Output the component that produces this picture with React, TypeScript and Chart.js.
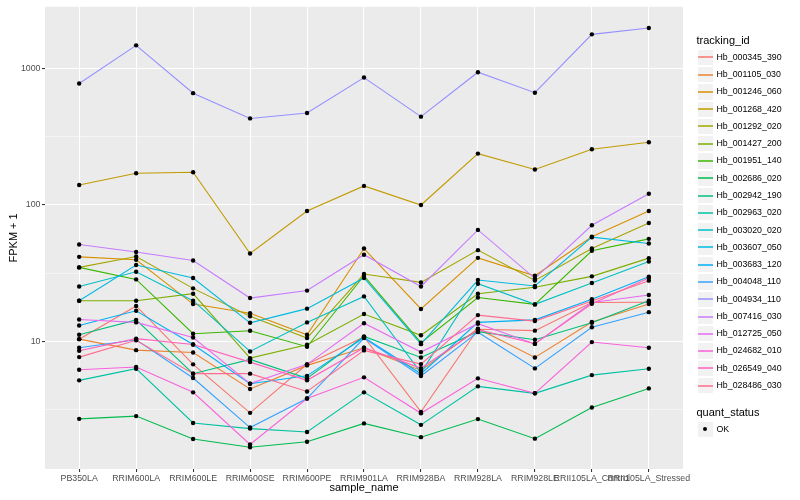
import React, { useEffect, useRef } from "react";
import { Chart, registerables } from "chart.js";

Chart.register(...registerables);

const FONT = "'Liberation Sans', Arial, Helvetica, sans-serif";

const categories = [
  "PB350LA",
  "RRIM600LA",
  "RRIM600LE",
  "RRIM600SE",
  "RRIM600PE",
  "RRIM901LA",
  "RRIM928BA",
  "RRIM928LA",
  "RRIM928LE",
  "RRII105LA_Control",
  "RRII105LA_Stressed",
];

const trackingIds = [
  "Hb_000345_390",
  "Hb_001105_030",
  "Hb_001246_060",
  "Hb_001268_420",
  "Hb_001292_020",
  "Hb_001427_200",
  "Hb_001951_140",
  "Hb_002686_020",
  "Hb_002942_190",
  "Hb_002963_020",
  "Hb_003020_020",
  "Hb_003607_050",
  "Hb_003683_120",
  "Hb_004048_110",
  "Hb_004934_110",
  "Hb_007416_030",
  "Hb_012725_050",
  "Hb_024682_010",
  "Hb_026549_040",
  "Hb_028486_030",
];

const seriesColors = [
  "#F8766D", "#EA8331", "#D89000", "#C09B00", "#A3A500",
  "#7CAE00", "#39B600", "#00BB4E", "#00BF7D", "#00C1A3",
  "#00BFC4", "#00BAE0", "#00B0F6", "#35A2FF", "#9590FF",
  "#C77CFF", "#E76BF3", "#FA62DB", "#FF62BC", "#FF6C91",
];

// FPKM + 1 per sample, one array per tracking id
const hb000345_390 = [10.4, 18.2, 6.8, 3.0, 6.8, 10.8, 3.05, 12.3, 12.0, 19.3, 19.4];
const hb001105_030 = [10.4, 8.64, 8.3, 4.49, 6.68, 9.0, 6.14, 12.4, 7.64, 13.9, 18.8];
const hb001246_060 = [41.7, 39.7, 18.8, 16.1, 11.2, 48.0, 17.3, 41.0, 30.3, 58.5, 90.4];
const hb001268_420 = [140, 171, 174, 44.1, 90.4, 138, 100, 238, 182, 256, 288];
const hb001292_020 = [34.9, 41.9, 24.5, 15.3, 10.6, 31.2, 27.1, 46.7, 28.0, 48.0, 73.9];
const hb001427_200 = [19.9, 19.9, 22.4, 7.55, 9.46, 15.9, 11.1, 22.4, 25.0, 30.0, 40.8];
const hb001951_140 = [34.9, 28.5, 11.4, 11.97, 9.15, 30.3, 9.8, 21.0, 18.7, 46.2, 56.5];
const hb002686_020 = [2.71, 2.84, 1.93, 1.68, 1.84, 2.51, 1.99, 2.7, 1.94, 3.28, 4.53];
const hb002942_190 = [11.2, 14.4, 5.81, 7.39, 5.37, 10.9, 7.64, 11.8, 10.3, 13.7, 19.9];
const hb002963_020 = [5.19, 6.32, 2.53, 2.3, 2.17, 4.24, 2.45, 4.69, 4.17, 5.67, 6.32];
const hb003020_020 = [25.3, 32.4, 19.9, 8.45, 13.8, 21.4, 5.9, 26.5, 18.7, 26.8, 38.5];
const hb003607_050 = [19.9, 36.3, 29.2, 13.7, 17.4, 29.2, 9.56, 28.2, 25.5, 58.1, 52.2];
const hb003683_120 = [13.1, 16.8, 9.5, 4.9, 5.6, 10.7, 5.8, 13.8, 14.4, 20.4, 29.8];
const hb004048_110 = [9.0, 10.3, 5.4, 2.34, 3.82, 10.6, 5.58, 11.7, 6.35, 12.7, 16.4];
const hb004934_110 = [777, 1479, 660, 431, 472, 859, 444, 940, 665, 1780, 1982];
const hb007416_030 = [51.3, 45.2, 39.2, 20.8, 23.6, 43.2, 25.3, 65.7, 29.0, 71.1, 121];
const hb012725_050 = [14.5, 13.8, 10.7, 4.91, 6.8, 13.6, 8.36, 13.5, 9.6, 19.3, 21.9];
const hb024682_010 = [6.21, 6.5, 4.24, 1.76, 3.82, 5.46, 2.98, 5.37, 4.17, 9.9, 9.0];
const hb026549_040 = [8.55, 10.5, 9.5, 7.06, 5.19, 9.0, 6.38, 12.2, 9.62, 18.9, 29.2];
const hb028486_030 = [7.68, 10.2, 5.81, 5.81, 4.3, 8.6, 6.83, 15.6, 14.1, 19.8, 27.9];

const seriesValues = [
  hb000345_390, hb001105_030, hb001246_060, hb001268_420, hb001292_020,
  hb001427_200, hb001951_140, hb002686_020, hb002942_190, hb002963_020,
  hb003020_020, hb003607_050, hb003683_120, hb004048_110, hb004934_110,
  hb007416_030, hb012725_050, hb024682_010, hb026549_040, hb028486_030,
];

const yMajorTicks = [10, 100, 1000];
const yMinorTicks = [3.16228, 31.6228, 316.228];
const yMin = 1.163;
const yMax = 2835;

const quantStatus = ["OK"];

const isMajor = (v: number | undefined) =>
  v !== undefined && yMajorTicks.some((m) => Math.abs(m - v) < 1e-6);

const panelBackground = {
  id: "panelBackground",
  beforeDraw(chart: any) {
    const { ctx, chartArea } = chart;
    if (!chartArea) return;
    ctx.save();
    ctx.fillStyle = "#EBEBEB";
    ctx.fillRect(chartArea.left, chartArea.top, chartArea.right - chartArea.left, chartArea.bottom - chartArea.top);
    ctx.restore();
  },
};

const pointsOnTop = {
  id: "pointsOnTop",
  afterDatasetsDraw(chart: any) {
    const { ctx } = chart;
    ctx.save();
    ctx.fillStyle = "#000000";
    chart.data.datasets.forEach((_ds: any, i: number) => {
      const meta = chart.getDatasetMeta(i);
      meta.data.forEach((el: any) => {
        ctx.beginPath();
        ctx.arc(el.x, el.y, 2.2, 0, Math.PI * 2);
        ctx.fill();
      });
    });
    ctx.restore();
  },
};

export default function App() {
  const canvasRef = useRef<HTMLCanvasElement | null>(null);

  useEffect(() => {
    if (!canvasRef.current) return;
    Chart.defaults.font.family = FONT;
    const n = seriesValues.length;
    const chart = new Chart(canvasRef.current, {
      type: "line",
      data: {
        datasets: seriesValues.map((vals, i) => ({
          label: trackingIds[i],
          data: vals.map((v, j) => ({ x: j, y: v })),
          borderColor: seriesColors[i],
          backgroundColor: seriesColors[i],
          borderWidth: 1.1,
          pointRadius: 0,
          pointHoverRadius: 0,
          tension: 0,
          fill: false,
          order: n - i,
        })),
      },
      options: {
        responsive: false,
        animation: false,
        devicePixelRatio: 1,
        events: [],
        layout: { padding: { left: 0, right: 117, top: 5, bottom: 0 } },
        plugins: {
          legend: { display: false },
          tooltip: { enabled: false },
        },
        scales: {
          x: {
            type: "linear",
            min: -0.6,
            max: categories.length - 1 + 0.6,
            afterBuildTicks: (scale: any) => {
              scale.ticks = categories.map((_c, i) => ({ value: i }));
            },
            afterFit: (scale: any) => {
              scale.height = 31;
            },
            ticks: {
              autoSkip: false,
              maxRotation: 0,
              minRotation: 0,
              padding: 1,
              color: "#4D4D4D",
              font: { size: 8.8, family: FONT },
              callback: (v: any) => categories[Math.round(Number(v))] ?? "",
            },
            grid: {
              color: "#FFFFFF",
              lineWidth: 1.07,
              tickColor: "#333333",
              tickLength: 3,
              tickWidth: 1.07,
            },
            border: { display: false },
            title: {
              display: true,
              text: "sample_name",
              color: "#000000",
              font: { size: 11, family: FONT },
              padding: { top: 0, bottom: 5 },
            },
          },
          y: {
            type: "logarithmic",
            min: yMin,
            max: yMax,
            afterBuildTicks: (scale: any) => {
              scale.ticks = [...yMinorTicks, ...yMajorTicks]
                .sort((a, b) => a - b)
                .map((v) => ({ value: v, major: isMajor(v) }));
            },
            afterFit: (scale: any) => {
              scale.width = 45;
            },
            ticks: {
              autoSkip: false,
              padding: 1.5,
              color: "#4D4D4D",
              font: { size: 8.8, family: FONT },
              callback: (v: any) => (isMajor(Number(v)) ? String(Math.round(Number(v))) : ""),
            },
            grid: {
              color: "#FFFFFF",
              lineWidth: (c: any) => (isMajor(c.tick?.value) ? 1.07 : 0.53),
              tickColor: (c: any) => (isMajor(c.tick?.value) ? "#333333" : "rgba(0,0,0,0)"),
              tickWidth: (c: any) => (isMajor(c.tick?.value) ? 1.07 : 0),
              tickLength: 3,
            },
            border: { display: false },
            title: {
              display: true,
              text: "FPKM + 1",
              color: "#000000",
              font: { size: 11, family: FONT },
              padding: { top: 7, bottom: 0 },
            },
          },
        },
      },
      plugins: [panelBackground, pointsOnTop],
    } as any);
    return () => chart.destroy();
  }, []);

  const keySize = 17.28;
  const keyLeft = 696.5;
  const firstKeyTop = 48.7;
  const labelLeft = 716.5;
  const qsKeyTop = 420.6;

  return (
    <div
      style={{
        position: "fixed",
        left: 0,
        top: 0,
        width: 800,
        height: 500,
        background: "#FFFFFF",
        fontFamily: FONT,
        overflow: "hidden",
      }}
    >
      <canvas
        ref={canvasRef}
        width={800}
        height={500}
        style={{ position: "absolute", left: 0, top: 0, width: 800, height: 500 }}
      />
      <div
        style={{
          position: "absolute",
          left: keyLeft,
          top: 34,
          fontSize: 11,
          lineHeight: "13px",
          color: "#000",
          whiteSpace: "nowrap",
        }}
      >
        tracking_id
      </div>
      {trackingIds.map((id, i) => {
        const top = firstKeyTop + i * keySize;
        const lineTop = Math.round(top + keySize / 2) - 1;
        return (
          <React.Fragment key={id}>
            <div
              style={{
                position: "absolute",
                left: keyLeft,
                top,
                width: keySize,
                height: keySize,
                boxSizing: "border-box",
                border: "0.6px solid #FFFFFF",
                background: "#F2F2F2",
              }}
            />
            <div
              style={{
                position: "absolute",
                left: Math.round(keyLeft) + 1,
                top: lineTop,
                width: 15,
                height: 2,
                background: seriesColors[i],
                opacity: 0.75,
              }}
            />
            <div
              style={{
                position: "absolute",
                left: labelLeft,
                top,
                height: keySize,
                lineHeight: `${keySize}px`,
                fontSize: 8.8,
                color: "#000",
                whiteSpace: "nowrap",
              }}
            >
              {id}
            </div>
          </React.Fragment>
        );
      })}
      <div
        style={{
          position: "absolute",
          left: keyLeft,
          top: 405.8,
          fontSize: 11,
          lineHeight: "13px",
          color: "#000",
          whiteSpace: "nowrap",
        }}
      >
        quant_status
      </div>
      {quantStatus.map((s, i) => (
        <React.Fragment key={s}>
          <div
            style={{
              position: "absolute",
              left: keyLeft,
              top: qsKeyTop + i * keySize,
              width: keySize,
              height: keySize,
              boxSizing: "border-box",
              border: "0.6px solid #FFFFFF",
              background: "#F2F2F2",
            }}
          >
            <div
              style={{
                position: "absolute",
                left: "50%",
                top: "50%",
                width: 4.2,
                height: 4.2,
                marginLeft: -2.1,
                marginTop: -2.1,
                borderRadius: "50%",
                background: "#000",
              }}
            />
          </div>
          <div
            style={{
              position: "absolute",
              left: labelLeft,
              top: qsKeyTop + i * keySize,
              height: keySize,
              lineHeight: `${keySize}px`,
              fontSize: 8.8,
              color: "#000",
              whiteSpace: "nowrap",
            }}
          >
            {s}
          </div>
        </React.Fragment>
      ))}
    </div>
  );
}
